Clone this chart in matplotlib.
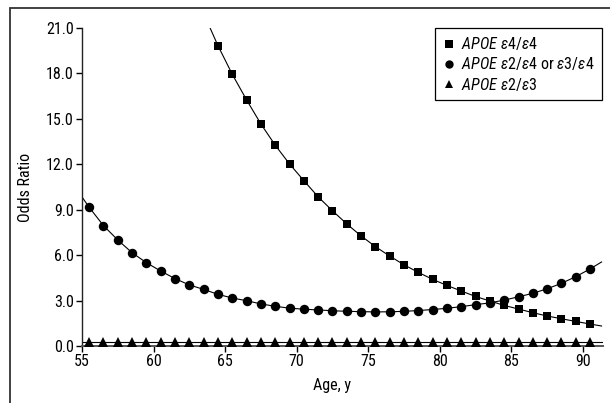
import matplotlib
matplotlib.use("Agg")
import matplotlib.pyplot as plt
from matplotlib import font_manager
from matplotlib.patches import Rectangle
from matplotlib.lines import Line2D

# pick a condensed sans family if one is installed
names = sorted({f.name for f in font_manager.fontManager.ttflist})
cond = None
for pref in ['Liberation Sans Narrow', 'Roboto Condensed', 'Open Sans Condensed',
             'DejaVu Sans Condensed', 'Noto Sans Condensed']:
    if pref in names:
        cond = pref
        break
if cond is None:
    for n in names:
        if 'Narrow' in n or 'Condensed' in n:
            cond = n
            break
stretch = 'normal'
if cond is None:
    for f in font_manager.fontManager.ttflist:
        if f.name == 'DejaVu Sans' and str(f.stretch) in ('condensed', 'semi-condensed'):
            cond = 'DejaVu Sans'
            stretch = 'condensed'
            break
if cond is None:
    cond = 'Liberation Sans'

plt.rcParams['font.family'] = [cond, 'DejaVu Sans']
plt.rcParams['font.stretch'] = stretch
plt.rcParams['mathtext.fontset'] = 'custom'
plt.rcParams['mathtext.it'] = cond + ':italic'
plt.rcParams['mathtext.rm'] = cond

# ---- data ----
ages_all = [55.5, 56.5, 57.5, 58.5, 59.5, 60.5, 61.5, 62.5, 63.5, 64.5,
            65.5, 66.5, 67.5, 68.5, 69.5, 70.5, 71.5, 72.5, 73.5, 74.5,
            75.5, 76.5, 77.5, 78.5, 79.5, 80.5, 81.5, 82.5, 83.5, 84.5,
            85.5, 86.5, 87.5, 88.5, 89.5, 90.5]
het_or = [9.16, 7.95, 7.00, 6.16, 5.50, 4.95, 4.45, 4.03, 3.74, 3.41,
          3.17, 2.99, 2.78, 2.62, 2.50, 2.43, 2.38, 2.33, 2.29, 2.27,
          2.25, 2.26, 2.29, 2.34, 2.41, 2.49, 2.60, 2.73, 2.85, 3.03,
          3.25, 3.48, 3.78, 4.14, 4.58, 5.09]

ages_hom = [64.5, 65.5, 66.5, 67.5, 68.5, 69.5, 70.5, 71.5, 72.5, 73.5,
            74.5, 75.5, 76.5, 77.5, 78.5, 79.5, 80.5, 81.5, 82.5, 83.5,
            84.5, 85.5, 86.5, 87.5, 88.5, 89.5, 90.5]
hom_or = [19.83, 17.94, 16.25, 14.66, 13.26, 12.02, 10.92, 9.85, 8.93, 8.06,
          7.27, 6.56, 5.94, 5.36, 4.86, 4.40, 4.00, 3.63, 3.27, 2.97,
          2.68, 2.44, 2.20, 1.98, 1.80, 1.62, 1.45]

e23_or = [0.27] * 36

# fitted-curve end points
hom_line_start = (63.95, 21.0)
hom_line_end = (91.3, 1.32)
het_line_start = (55.0, 9.84)
het_line_end = (91.3, 5.55)
e23_line_start = (55.0, 0.29)
e23_line_end = (91.3, 0.29)

xticks = [55, 60, 65, 70, 75, 80, 85, 90]
yticks = [0.0, 3.0, 6.0, 9.0, 12.0, 15.0, 18.0, 21.0]

labels = [r'$\mathit{APOE\ ε4/ε4}$',
          r'$\mathit{APOE\ ε2/ε4}$ or $\mathit{ε3/ε4}$',
          r'$\mathit{APOE\ ε2/ε3}$']

# ---- figure ----
fig = plt.figure(figsize=(6.10, 4.03), dpi=100)
ax = fig.add_axes([82/610, 1-346/403, (603-82)/610, (346-28)/403])

# frame around the figure
fig.patches.append(Rectangle((10/610, -0.1), 1.2, 1-8/403+0.1,
                             transform=fig.transFigure, fill=False,
                             edgecolor='#333333', lw=1.3))

def line_xy(start, xs, ys, end):
    return [start[0]] + list(xs) + [end[0]], [start[1]] + list(ys) + [end[1]]

lx, ly = line_xy(hom_line_start, ages_hom, hom_or, hom_line_end)
ax.plot(lx, ly, color='black', lw=0.8, zorder=2)
lx, ly = line_xy(het_line_start, ages_all, het_or, het_line_end)
ax.plot(lx, ly, color='black', lw=0.8, zorder=2)
lx, ly = line_xy(e23_line_start, ages_all, [v + 0.02 for v in e23_or], e23_line_end)
ax.plot(lx, ly, color='black', lw=0.8, zorder=2)

ax.plot(ages_hom, hom_or, 's', color='black', ms=6.2, mew=0, zorder=3, clip_on=False)
ax.plot(ages_all, het_or, 'o', color='black', ms=6.8, mew=0, zorder=3, clip_on=False)
ax.plot(ages_all, e23_or, '^', color='black', ms=7.0, mew=0, zorder=3, clip_on=False)

ax.set_xlim(55, 91.4)
ax.set_ylim(0, 21)
ax.set_xticks(xticks)
ax.set_xticklabels([str(t) for t in xticks])
ax.set_yticks(yticks)
ax.set_yticklabels([f'{t:.1f}' for t in yticks])
ax.tick_params(direction='out', length=4, width=1, labelsize=11.5, pad=2, color='black')

for s in ['top', 'right']:
    ax.spines[s].set_visible(False)
for s in ['left', 'bottom']:
    ax.spines[s].set_linewidth(1.0)
    ax.spines[s].set_color('#222222')
ax.spines['bottom'].set_linewidth(1.4)
ax.spines['bottom'].set_color('#555555')

ax.set_ylabel('Odds Ratio', fontsize=11.5)
ax.yaxis.set_label_coords((33-82)/521, 0.5)
ax.set_xlabel('Age, y', fontsize=11.5)
ax.xaxis.set_label_coords((332-82)/521, (346-378)/318)

handles = [Line2D([], [], marker='s', ls='none', color='black', ms=5.5, mew=0),
           Line2D([], [], marker='o', ls='none', color='black', ms=6, mew=0),
           Line2D([], [], marker='^', ls='none', color='black', ms=5.5, mew=0)]
leg = ax.legend(handles, labels, loc='upper right',
                bbox_to_anchor=(602/610, 1-28/403), bbox_transform=fig.transFigure,
                borderaxespad=0, fancybox=False, framealpha=1, edgecolor='black',
                fontsize=11.5, handlelength=0.8, handletextpad=0.4,
                labelspacing=0.2, borderpad=0.45)
leg.get_frame().set_linewidth(0.9)

fig.savefig('out.png', dpi=100)
